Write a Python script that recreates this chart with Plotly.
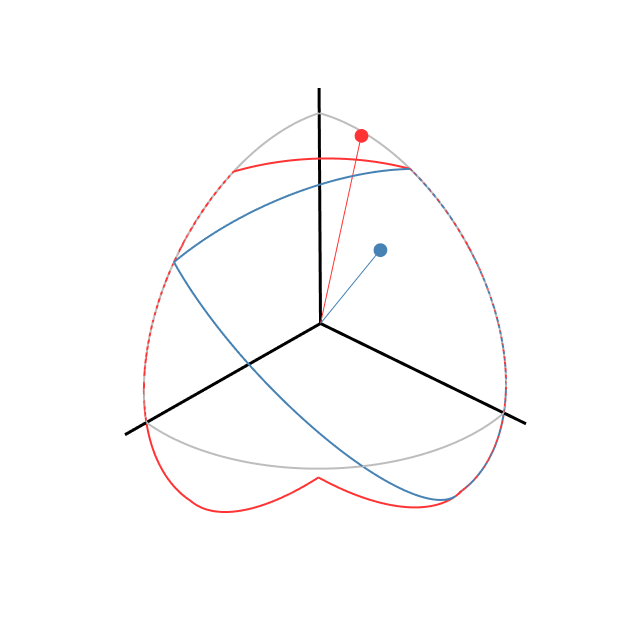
import numpy as np
import plotly.graph_objects as go

# ---- data: spherical polygon vertices (polar angle from +z, azimuth from +x, degrees)
red_polar = [28, 28, 121, 92.5, 122.5]
red_azim = [0, 90, 90, 42.6, 0]
blue_polar = [28, 51.5, 122]
blue_azim = [90, 0, 90]

# ---- data: the two marked directions
red_point = [0.03, 0.25, 0.97]
blue_point = [0.343, 0.612, 0.717]

axis_len = 1.1
RED = "#ff3333"
BLUE = "#4682b4"
GRAY = "#bdbdbd"


def sph(theta, phi):
    t, p = np.radians(theta), np.radians(phi)
    return np.array([np.sin(t) * np.cos(p), np.sin(t) * np.sin(p), np.cos(t)])


def arc(a, b, n=60):
    a = a / np.linalg.norm(a)
    b = b / np.linalg.norm(b)
    om = np.arccos(np.clip(np.dot(a, b), -1, 1))
    s = np.linspace(0, 1, n)
    pts = (np.sin((1 - s)[:, None] * om) * a + np.sin(s[:, None] * om) * b) / np.sin(om)
    return pts


def polygon(polar, azim):
    vs = [sph(t, p) for t, p in zip(polar, azim)]
    segs = [arc(vs[i], vs[(i + 1) % len(vs)]) for i in range(len(vs))]
    return np.vstack(segs)


ex, ey, ez = np.eye(3)
gray_arcs = [arc(ex, ez), arc(ey, ez), arc(ex, ey)]

fig = go.Figure()

for g in gray_arcs:
    fig.add_trace(go.Scatter3d(x=g[:, 0], y=g[:, 1], z=g[:, 2], mode="lines",
                               line=dict(color=GRAY, width=4), hoverinfo="skip"))

for v in (ex, ey, ez):
    fig.add_trace(go.Scatter3d(x=[0, axis_len * v[0]], y=[0, axis_len * v[1]], z=[0, axis_len * v[2]],
                               mode="lines", line=dict(color="black", width=6), hoverinfo="skip"))

rp = polygon(red_polar, red_azim)
fig.add_trace(go.Scatter3d(x=rp[:, 0], y=rp[:, 1], z=rp[:, 2], mode="lines",
                           line=dict(color=RED, width=4), hoverinfo="skip"))
bp = polygon(blue_polar, blue_azim)
fig.add_trace(go.Scatter3d(x=bp[:, 0], y=bp[:, 1], z=bp[:, 2], mode="lines",
                           line=dict(color=BLUE, width=4), hoverinfo="skip"))

for pt, col in ((red_point, RED), (blue_point, BLUE)):
    fig.add_trace(go.Scatter3d(x=[0, pt[0]], y=[0, pt[1]], z=[0, pt[2]], mode="lines",
                               line=dict(color=col, width=2), hoverinfo="skip"))
    fig.add_trace(go.Scatter3d(x=[pt[0]], y=[pt[1]], z=[pt[2]], mode="markers",
                               marker=dict(color=col, size=8), hoverinfo="skip"))

L = 1.1
az, el, dist = np.radians(42.57), np.radians(32.16), 3.652 / (2 * L)
ctr = dict(x=-0.0071, y=0.0154, z=-0.0082)
eye = dict(x=dist * np.cos(el) * np.cos(az) + ctr["x"],
           y=dist * np.cos(el) * np.sin(az) + ctr["y"],
           z=dist * np.sin(el) + ctr["z"])

hidden = dict(visible=False, range=[-L, L], showbackground=False, showgrid=False,
              zeroline=False, showticklabels=False, title="")
fig.update_layout(
    width=640, height=640, margin=dict(l=0, r=0, t=0, b=0),
    paper_bgcolor="white", showlegend=False,
    scene=dict(xaxis=hidden, yaxis=hidden, zaxis=hidden, aspectmode="cube",
               camera=dict(eye=eye, center=ctr, up=dict(x=0, y=0, z=1),
                           projection=dict(type="perspective")),
               domain=dict(x=[0, 1], y=[0, 1])),
)
fig.write_html("out.html")
